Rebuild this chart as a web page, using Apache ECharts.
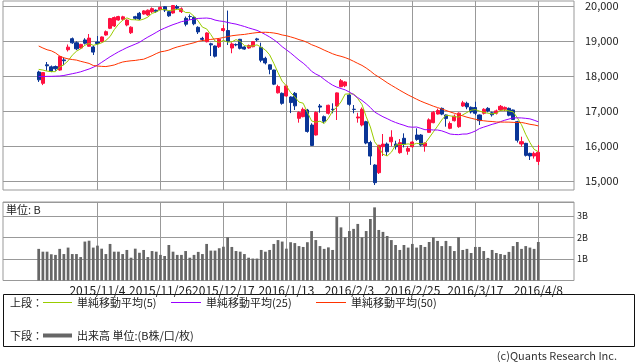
<!DOCTYPE html>
<html><head><meta charset="utf-8">
<script src="https://cdn.jsdelivr.net/npm/echarts@6/dist/echarts.min.js"></script>
<style>html,body{margin:0;padding:0;background:#fff}#c{width:638px;height:362px}</style>
</head><body><div id="c"></div>
<script>
const dates = ['2015/10/14','2015/10/15','2015/10/16','2015/10/19','2015/10/20','2015/10/21','2015/10/22','2015/10/23','2015/10/26','2015/10/27','2015/10/28','2015/10/29','2015/10/30',
'2015/11/2','2015/11/4','2015/11/5','2015/11/6','2015/11/9','2015/11/10','2015/11/11','2015/11/12','2015/11/13','2015/11/16','2015/11/17','2015/11/18','2015/11/19','2015/11/20','2015/11/24','2015/11/25','2015/11/26','2015/11/27','2015/11/30',
'2015/12/1','2015/12/2','2015/12/3','2015/12/4','2015/12/7','2015/12/8','2015/12/9','2015/12/10','2015/12/11','2015/12/14','2015/12/15','2015/12/16','2015/12/17','2015/12/18','2015/12/21','2015/12/22','2015/12/24','2015/12/25','2015/12/28','2015/12/29','2015/12/30',
'2016/1/4','2016/1/5','2016/1/6','2016/1/7','2016/1/8','2016/1/12','2016/1/13','2016/1/14','2016/1/15','2016/1/18','2016/1/19','2016/1/20','2016/1/21','2016/1/22','2016/1/25','2016/1/26','2016/1/27','2016/1/28','2016/1/29',
'2016/2/1','2016/2/2','2016/2/3','2016/2/4','2016/2/5','2016/2/8','2016/2/9','2016/2/10','2016/2/12','2016/2/15','2016/2/16','2016/2/17','2016/2/18','2016/2/19','2016/2/22','2016/2/23','2016/2/24','2016/2/25','2016/2/26','2016/2/29',
'2016/3/1','2016/3/2','2016/3/3','2016/3/4','2016/3/7','2016/3/8','2016/3/9','2016/3/10','2016/3/11','2016/3/14','2016/3/15','2016/3/16','2016/3/17','2016/3/18','2016/3/22','2016/3/23','2016/3/24','2016/3/25','2016/3/28','2016/3/29','2016/3/30','2016/3/31',
'2016/4/1','2016/4/4','2016/4/5','2016/4/6','2016/4/7','2016/4/8'];

const openP = [18114,17791,18320,18262,18270,18170,18460,18750,19066,18950,
18800,19030,18850,18830,18970,18981,19171,19363,19430,19600,
19620,19457,19237,19694,19791,19771,19743,19837,19880,19900,
19980,19837,19800,19980,19840,19648,19700,19676,19391,19076,
18980,18920,18857,18837,19300,19300,18800,18900,19048,18829,
18800,18837,19060,18818,18505,18320,18171,17520,17505,17429,
17400,17505,16791,16838,17029,16600,16314,17143,16838,16934,
17050,17143,17694,17720,17457,17050,16800,16600,16695,16100,
15457,15238,15981,16057,16120,16057,15810,16220,15850,15980,
16314,16314,16000,16390,16666,16914,17076,16886,16505,16723,
16552,17143,17220,17105,17100,16886,16934,17076,16950,16934,
17029,17048,17076,17029,16695,16057,16076,15790,15714,15560];

const closeP = [17891,18097,18292,18131,18207,18554,18436,18825,18947,18777,
18903,18936,19083,18683,18927,19116,19266,19643,19671,19698,
19690,19597,19394,19649,19630,19860,19880,19925,19848,19960,
19884,19720,20012,19938,19920,19480,19698,19493,19260,19047,
19230,18890,18566,19050,19354,18987,18916,18887,18790,18769,
18873,18982,19034,18451,18374,18191,17767,17698,17219,17716,
17241,17147,16956,17048,16416,16017,16959,17111,16709,17164,
17041,17518,17865,17830,17191,17045,16830,17050,16085,15713,
14953,16022,16054,15836,16250,15980,16095,16052,15930,16114,
16188,16027,16086,16747,16960,17015,16911,16783,16642,16852,
16939,17234,17117,16974,16936,16725,17049,17001,16892,17003,
17134,17103,16879,16759,16164,16123,15733,15715,15790,15821];

const lowP = [17830,17740,18150,18110,18150,18150,18310,18700,18920,18740,
18780,18900,18840,18600,18886,18960,19150,19340,19400,19580,
19580,19420,19200,19600,19600,19750,19720,19800,19800,19880,
19830,19690,19780,19890,19800,19420,19600,19450,19200,19000,
18960,18571,18530,18800,19260,18886,18650,18850,18760,18750,
18780,18820,18990,18394,18330,18050,17740,17500,17180,17400,
16940,17029,16667,16820,16381,16000,16300,16952,16650,16900,
16934,16743,17680,17680,17150,16934,16667,16560,16050,15460,
14886,15200,15714,15714,15990,15900,15780,15960,15750,15950,
16150,15990,15838,16380,16650,16900,16880,16552,16480,16700,
16520,17120,17050,16930,16880,16600,16900,16960,16840,16900,
17000,17000,16850,16750,16100,15980,15700,15600,15640,15457];

const highP = [18150,18110,18400,18300,18300,18580,18530,18900,19100,18990,
18920,19080,19200,18870,19143,19130,19300,19660,19700,19720,
19720,19620,19420,19720,19830,19880,19900,19960,19900,19990,
20000,19860,20030,20030,19960,19700,19760,19700,19420,19120,
19250,18950,18870,19080,19460,19869,18960,18930,19060,18850,
18900,19000,19090,18951,18550,18330,18180,17750,17530,17750,
17420,17543,16990,17100,17060,16650,16990,17200,16870,17180,
17220,17530,17914,17850,17480,17171,16950,17100,16720,16150,
15480,16030,16343,16100,16450,16150,16200,16362,16000,16140,
16505,16340,16100,16790,17000,17070,17100,16900,16700,16900,
16960,17290,17266,17130,17266,16900,17080,17110,16980,17040,
17171,17130,17100,17040,16720,16266,16090,15810,15840,16029];

const ma5 = [18190,18170,18140,18125,18124,18256,18324,18431,18594,18708,
18778,18878,18929,18876,18906,18949,19015,19127,19325,19479,
19594,19660,19610,19606,19592,19626,19683,19789,19829,19895,
19899,19867,19885,19903,19895,19814,19810,19706,19570,19396,
19346,19184,18999,18957,19018,18969,18975,19039,18987,18870,
18847,18860,18890,18822,18743,18606,18363,18096,17850,17718,
17528,17404,17256,17222,16962,16717,16679,16710,16642,16792,
16997,17109,17259,17484,17489,17490,17352,17189,16840,16545,
16126,15965,15765,15716,15823,16028,16043,16043,16061,16034,
16076,16062,16069,16232,16402,16567,16744,16883,16862,16841,
16825,16890,16957,17023,17040,16997,16960,16937,16921,16934,
17016,17027,17002,16976,16808,16606,16332,16099,15905,15836];

const ma25 = [17985,17985,17990,17990,17995,18000,18015,18040,18065,18090,
18120,18160,18200,18250,18310,18390,18470,18550,18620,18690,
18750,18810,18860,18910,18962,19040,19112,19177,19246,19316,
19369,19420,19468,19508,19553,19576,19607,19623,19646,19651,
19656,19641,19598,19573,19559,19531,19504,19483,19449,19415,
19375,19339,19304,19248,19184,19116,19038,18946,18837,18749,
18659,18557,18456,18367,18262,18134,18056,17998,17904,17817,
17739,17683,17642,17604,17541,17468,17382,17302,17208,17101,
16972,16902,16836,16781,16722,16672,16630,16593,16549,16537,
16543,16506,16465,16467,16458,16457,16433,16390,16342,16329,
16325,16341,16343,16379,16428,16499,16540,16578,16620,16650,
16696,16737,16770,16803,16805,16802,16790,16776,16737,16692];

const ma50 = [18857,18800,18750,18720,18660,18570,18520,18490,18470,18455,
18420,18390,18360,18300,18285,18275,18270,18290,18315,18360,
18400,18420,18435,18445,18465,18480,18530,18580,18640,18690,
18710,18740,18790,18830,18860,18890,18920,18950,18990,19010,
19030,19045,19060,19075,19100,19125,19150,19165,19178,19188,
19208,19225,19240,19247,19250,19243,19229,19207,19172,19151,
19118,19082,19040,19007,18957,18895,18849,18798,18739,18688,
18635,18593,18563,18526,18478,18421,18360,18303,18228,18143,
18044,17970,17891,17809,17735,17665,17593,17525,17458,17399,
17338,17281,17232,17186,17138,17098,17058,17016,16973,16935,
16896,16861,16823,16793,16764,16735,16721,16707,16700,16686,
16684,16683,16682,16676,16671,16673,16648,16620,16602,16575];

const volume = [1.47,1.34,1.34,1.22,1.19,1.47,1.23,1.53,1.23,1.23,
1.09,1.81,1.85,1.53,1.62,1.48,1.23,1.70,1.34,1.34,
1.23,1.42,1.06,1.48,1.29,1.42,1.09,1.37,1.34,1.19,
1.14,1.65,1.34,1.19,1.19,1.37,1.06,1.19,1.33,1.23,
1.70,1.39,1.39,1.50,1.57,2.01,1.56,1.37,1.34,1.23,
1.06,1.02,1.02,1.42,1.34,1.42,1.70,1.88,1.81,1.48,
1.78,1.74,1.60,1.56,1.78,2.30,1.88,1.60,1.47,1.54,
1.42,2.95,2.47,2.01,2.30,2.40,2.63,2.01,2.30,2.86,
3.40,2.35,2.26,2.07,1.88,1.65,1.42,1.65,1.53,1.70,
1.53,1.65,1.56,1.79,2.01,1.84,1.60,1.84,1.60,1.37,
2.01,1.42,1.47,1.28,1.56,1.56,1.37,1.05,1.42,1.28,
1.23,1.19,1.33,1.60,1.79,1.47,1.60,1.53,1.47,1.79];

const tickDates = ['2015/11/4','2015/11/26','2015/12/17','2016/1/13','2016/2/3','2016/2/25','2016/3/17','2016/4/8'];
const priceTicks = [15000,16000,17000,18000,19000,20000];
const volumeTicks = [1,2,3];
const seriesNames = ['単純移動平均(5)','単純移動平均(25)','単純移動平均(50)','出来高 単位:(B株/口/枚)'];

const FONT = '"Noto Sans CJK JP", "Noto Sans", sans-serif';
const GRID_C = '#999999';
const UP = '#ff1040';
const DOWN = '#0a3596';

// padding slots on both ends of the category axis
const cats = [];
for (let j = 0; j < 8; j++) cats.push('pl' + j);
dates.forEach(d => cats.push(d));
for (let j = 0; j < 8; j++) cats.push('pr' + j);

const candleData = dates.map((d, i) => [d, openP[i], closeP[i], lowP[i], highP[i]]);
const lineData = arr => dates.map((d, i) => [d, arr[i]]);
const volData = dates.map((d, i) => [d, volume[i]]);

const vLines = {
  silent: true, symbol: 'none', z: 1, animation: false,
  label: { show: false },
  lineStyle: { color: GRID_C, type: 'solid', width: 1 },
  emphasis: { disabled: true },
  data: tickDates.map(d => ({ xAxis: d }))
};

const legendText = { fontSize: 11, color: '#222', fontFamily: FONT };

const chart = echarts.init(document.getElementById('c'), null, { renderer: 'canvas' });
chart.setOption({
  animation: false,
  backgroundColor: '#ffffff',
  textStyle: { fontFamily: FONT },
  grid: [
    { left: 3, top: 1, width: 571, height: 189, show: true, borderColor: GRID_C, borderWidth: 1, backgroundColor: 'transparent' },
    { left: 3, top: 6, width: 571, height: 175, show: false },
    { left: 3, top: 202, width: 571, height: 78.5, show: true, borderColor: GRID_C, borderWidth: 1, backgroundColor: 'transparent' }
  ],
  xAxis: [
    { gridIndex: 0, type: 'category', data: cats, boundaryGap: true, show: false },
    { gridIndex: 1, type: 'value', min: 0, max: 1, show: false },
    { gridIndex: 2, type: 'category', data: cats, boundaryGap: true,
      axisLine: { show: false }, axisTick: { show: false }, splitLine: { show: false },
      axisLabel: { interval: (idx, val) => tickDates.indexOf(val) >= 0, margin: 4,
        fontSize: 12, color: '#222', fontFamily: FONT } }
  ],
  yAxis: [
    { gridIndex: 0, type: 'value', min: 14743, max: 20143, show: false },
    { gridIndex: 1, type: 'value', position: 'right', min: priceTicks[0], max: priceTicks[priceTicks.length - 1], interval: 1000,
      axisLine: { show: false }, axisTick: { show: false },
      splitLine: { show: true, lineStyle: { color: GRID_C, width: 1 } },
      axisLabel: { margin: 11, fontSize: 11, color: '#222', fontFamily: FONT,
        formatter: v => v.toLocaleString('en-US') } },
    { gridIndex: 2, type: 'value', position: 'right', min: 0, max: 3.65, interval: 1,
      axisLine: { show: false }, axisTick: { show: false },
      splitLine: { show: true, lineStyle: { color: GRID_C, width: 1 } },
      axisLabel: { margin: 3, fontSize: 9, color: '#222', fontFamily: FONT,
        showMinLabel: false, showMaxLabel: false,
        formatter: v => (volumeTicks.indexOf(v) >= 0 ? v + 'B' : '') } }
  ],
  legend: [
    { data: [seriesNames[0]], left: 43, top: 297, padding: 0, itemWidth: 29, itemHeight: 1, icon: 'rect', selectedMode: false, textStyle: legendText },
    { data: [seriesNames[1]], left: 171, top: 297, padding: 0, itemWidth: 30, itemHeight: 1, icon: 'rect', selectedMode: false, textStyle: legendText },
    { data: [seriesNames[2]], left: 316, top: 297, padding: 0, itemWidth: 30, itemHeight: 1, icon: 'rect', selectedMode: false, textStyle: legendText },
    { data: [seriesNames[3]], left: 43, top: 330, padding: 0, itemWidth: 29, itemHeight: 4, icon: 'rect', selectedMode: false, textStyle: legendText }
  ],
  graphic: [
    { type: 'rect', shape: { x: 3.5, y: 294.5, width: 631, height: 52 }, style: { fill: 'none', stroke: '#111', lineWidth: 1 }, silent: true },
    { type: 'text', x: 10, y: 303, style: { text: '上段：', fontSize: 11, fontFamily: FONT, fill: '#222', verticalAlign: 'middle' }, silent: true },
    { type: 'text', x: 10, y: 336, style: { text: '下段：', fontSize: 11, fontFamily: FONT, fill: '#222', verticalAlign: 'middle' }, silent: true },
    { type: 'text', x: 6, y: 210, style: { text: '単位: B', fontSize: 11, fontFamily: FONT, fill: '#222', verticalAlign: 'middle' }, silent: true },
    { type: 'text', x: 617, y: 356, style: { text: '(c)Quants Research Inc.', fontSize: 11, fontFamily: FONT, fill: '#333', align: 'right', verticalAlign: 'middle' }, silent: true }
  ],
  series: [
    { type: 'candlestick', name: 'price', xAxisIndex: 0, yAxisIndex: 0, data: candleData,
      encode: { x: 0, y: [1, 2, 3, 4] }, barWidth: '85%', clip: false,
      itemStyle: { color: UP, color0: DOWN, borderColor: UP, borderColor0: DOWN, borderWidth: 1 },
      markLine: vLines },
    { type: 'line', name: seriesNames[0], xAxisIndex: 0, yAxisIndex: 0, data: lineData(ma5), symbol: 'none', z: 3,
      lineStyle: { color: '#99cc00', width: 1 }, itemStyle: { color: '#99cc00' } },
    { type: 'line', name: seriesNames[1], xAxisIndex: 0, yAxisIndex: 0, data: lineData(ma25), symbol: 'none', z: 3,
      lineStyle: { color: '#9900ff', width: 1 }, itemStyle: { color: '#9900ff' } },
    { type: 'line', name: seriesNames[2], xAxisIndex: 0, yAxisIndex: 0, data: lineData(ma50), symbol: 'none', z: 3,
      lineStyle: { color: '#ff3300', width: 1 }, itemStyle: { color: '#ff3300' } },
    { type: 'bar', name: seriesNames[3], xAxisIndex: 2, yAxisIndex: 2, data: volData, barWidth: '65%',
      itemStyle: { color: '#666666' }, markLine: vLines }
  ]
});
</script>
</body></html>
